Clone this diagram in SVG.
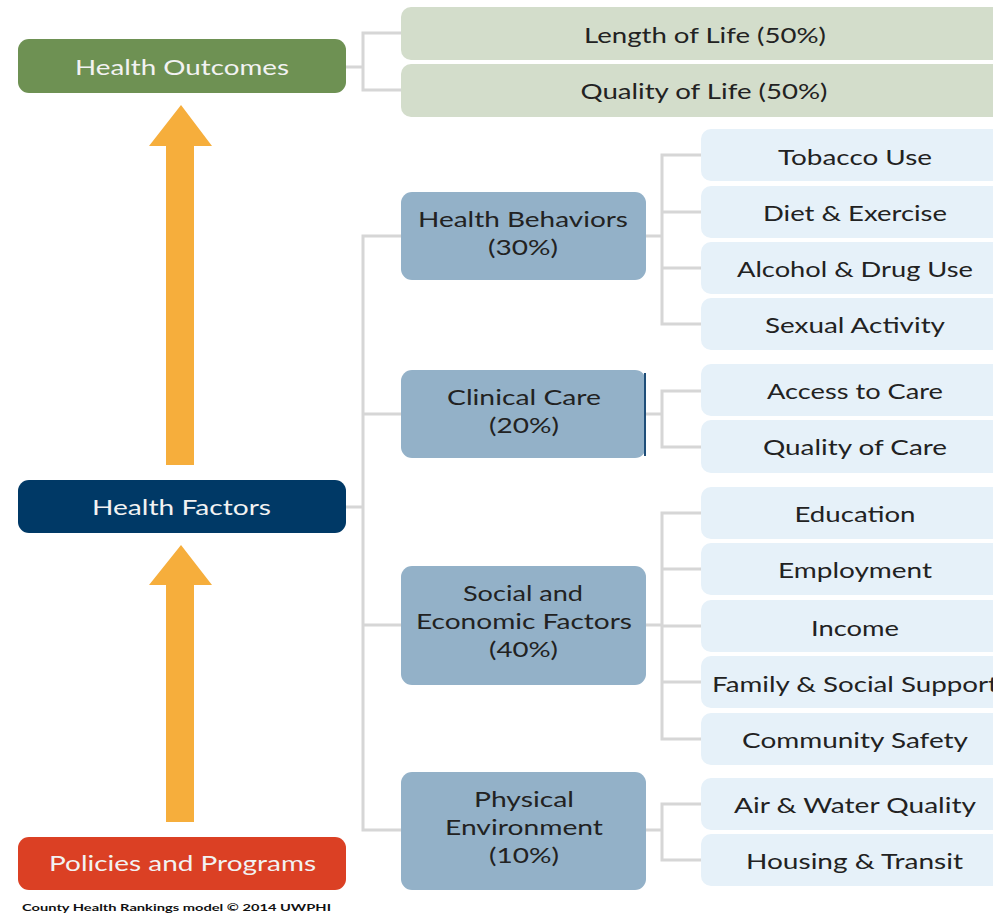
<svg xmlns="http://www.w3.org/2000/svg" width="993" height="914" viewBox="0 0 993 914">
<style>
  text { font-family: Lato, "Open Sans", "Liberation Sans", sans-serif; font-size: 22px; text-anchor: middle; }
  .w { fill: #f2f2f2; }
  .d { fill: #222222; }
  .top { fill: #d3ddcb; }
  .mid { fill: #93b1c8; }
  .sub { fill: #e6f1f9; }
  .con { fill: none; stroke: #d6d6d6; stroke-width: 3; }
  .arr { fill: #f6ae3c; }
</style>
<rect width="993" height="914" fill="#ffffff"/>
<g id="connectors">
  <path class="con" d="M346 67 H363 M401 33 H363 V90 H401"/>
  <path class="con" d="M346 507 H363 M401 236 H363 V830 H401 M363 414 H401 M363 625 H401"/>
  <path class="con" d="M645 236 H662 M701 155 H662 V324 H701 M662 212 H701 M662 268 H701"/>
  <path class="con" d="M645 414 H662 M701 391 H662 V447 H701"/>
  <path class="con" d="M645 625 H662 M701 513 H662 V739 H701 M662 569 H701 M662 626 H701 M662 682 H701"/>
  <path class="con" d="M645 830 H662 M701 804 H662 V860 H701"/>
</g>
<g id="arrow-up-1"><polygon class="arr" points="181,105 212,146 194,146 194,465 166,465 166,146 149,146"/></g>
<g id="arrow-up-2"><polygon class="arr" points="181,545 212,585 194,585 194,822 166,822 166,585 149,585"/></g>
<g id="health-outcomes">
  <rect x="18" y="39" width="328" height="54" rx="11" fill="#6e9153"/>
  <text class="w" x="182" y="75" textLength="214" lengthAdjust="spacingAndGlyphs">Health Outcomes</text>
</g>
<g id="health-factors">
  <rect x="18" y="480" width="328" height="53" rx="11" fill="#003966"/>
  <text class="w" x="181.5" y="515" textLength="179" lengthAdjust="spacingAndGlyphs">Health Factors</text>
</g>
<g id="policies-programs">
  <rect x="18" y="837" width="328" height="53" rx="11" fill="#db4024"/>
  <text class="w" x="182.5" y="871" textLength="267" lengthAdjust="spacingAndGlyphs">Policies and Programs</text>
</g>
<g id="length-of-life">
  <rect class="top" x="401" y="7" width="608" height="53" rx="10"/>
  <text class="d" x="705" y="43" textLength="242" lengthAdjust="spacingAndGlyphs">Length of Life (50%)</text>
</g>
<g id="quality-of-life">
  <rect class="top" x="401" y="64" width="608" height="53" rx="10"/>
  <text class="d" x="704" y="99" textLength="247" lengthAdjust="spacingAndGlyphs">Quality of Life (50%)</text>
</g>
<g id="health-behaviors">
  <rect class="mid" x="401" y="192" width="245" height="88" rx="11"/>
  <text class="d" x="523" y="227" textLength="210" lengthAdjust="spacingAndGlyphs">Health Behaviors</text>
  <text class="d" x="523" y="255" textLength="70" lengthAdjust="spacingAndGlyphs">(30%)</text>
</g>
<g id="clinical-care">
  <rect class="mid" x="401" y="370" width="245" height="88" rx="11"/>
  <line x1="645" y1="373" x2="645" y2="456" stroke="#1f4e79" stroke-width="2"/>
  <text class="d" x="524" y="405" textLength="154" lengthAdjust="spacingAndGlyphs">Clinical Care</text>
  <text class="d" x="524" y="433" textLength="70" lengthAdjust="spacingAndGlyphs">(20%)</text>
</g>
<g id="social-economic">
  <rect class="mid" x="401" y="566" width="245" height="119" rx="11"/>
  <text class="d" x="523" y="601" textLength="120" lengthAdjust="spacingAndGlyphs">Social and</text>
  <text class="d" x="524" y="629" textLength="216" lengthAdjust="spacingAndGlyphs">Economic Factors</text>
  <text class="d" x="523.5" y="657" textLength="69" lengthAdjust="spacingAndGlyphs">(40%)</text>
</g>
<g id="physical-environment">
  <rect class="mid" x="401" y="772" width="245" height="118" rx="11"/>
  <text class="d" x="524" y="807" textLength="100" lengthAdjust="spacingAndGlyphs">Physical</text>
  <text class="d" x="524" y="835" textLength="158" lengthAdjust="spacingAndGlyphs">Environment</text>
  <text class="d" x="524" y="863" textLength="70" lengthAdjust="spacingAndGlyphs">(10%)</text>
</g>
<g id="tobacco-use"><rect class="sub" x="701" y="129" width="308" height="52" rx="10"/><text class="d" x="855" y="165" textLength="154" lengthAdjust="spacingAndGlyphs">Tobacco Use</text></g>
<g id="diet-exercise"><rect class="sub" x="701" y="186" width="308" height="52" rx="10"/><text class="d" x="855" y="221" textLength="184" lengthAdjust="spacingAndGlyphs">Diet &amp; Exercise</text></g>
<g id="alcohol-drug-use"><rect class="sub" x="701" y="242" width="308" height="52" rx="10"/><text class="d" x="855" y="277" textLength="236" lengthAdjust="spacingAndGlyphs">Alcohol &amp; Drug Use</text></g>
<g id="sexual-activity"><rect class="sub" x="701" y="298" width="308" height="52" rx="10"/><text class="d" x="855" y="333" textLength="180" lengthAdjust="spacingAndGlyphs">Sexual Activity</text></g>
<g id="access-to-care"><rect class="sub" x="701" y="364" width="308" height="52" rx="10"/><text class="d" x="855" y="399" textLength="176" lengthAdjust="spacingAndGlyphs">Access to Care</text></g>
<g id="quality-of-care"><rect class="sub" x="701" y="420" width="308" height="53" rx="10"/><text class="d" x="855" y="455" textLength="184" lengthAdjust="spacingAndGlyphs">Quality of Care</text></g>
<g id="education"><rect class="sub" x="701" y="487" width="308" height="52" rx="10"/><text class="d" x="855" y="522" textLength="121" lengthAdjust="spacingAndGlyphs">Education</text></g>
<g id="employment"><rect class="sub" x="701" y="543" width="308" height="52" rx="10"/><text class="d" x="855" y="578" textLength="154" lengthAdjust="spacingAndGlyphs">Employment</text></g>
<g id="income"><rect class="sub" x="701" y="600" width="308" height="52" rx="10"/><text class="d" x="855" y="636" textLength="88" lengthAdjust="spacingAndGlyphs">Income</text></g>
<g id="family-social-support"><rect class="sub" x="701" y="656" width="308" height="52" rx="10"/><text class="d" x="855" y="692" textLength="286" lengthAdjust="spacingAndGlyphs">Family &amp; Social Support</text></g>
<g id="community-safety"><rect class="sub" x="701" y="713" width="308" height="52" rx="10"/><text class="d" x="855" y="748" textLength="226" lengthAdjust="spacingAndGlyphs">Community Safety</text></g>
<g id="air-water-quality"><rect class="sub" x="701" y="778" width="308" height="52" rx="10"/><text class="d" x="855" y="813" textLength="242" lengthAdjust="spacingAndGlyphs">Air &amp; Water Quality</text></g>
<g id="housing-transit"><rect class="sub" x="701" y="834" width="308" height="52" rx="10"/><text class="d" x="854.5" y="869" textLength="217" lengthAdjust="spacingAndGlyphs">Housing &amp; Transit</text></g>
<text x="22" y="911" style="font-size:10px;font-weight:bold;text-anchor:start;fill:#111111" textLength="309" lengthAdjust="spacingAndGlyphs">County Health Rankings model © 2014 UWPHI</text>
</svg>
